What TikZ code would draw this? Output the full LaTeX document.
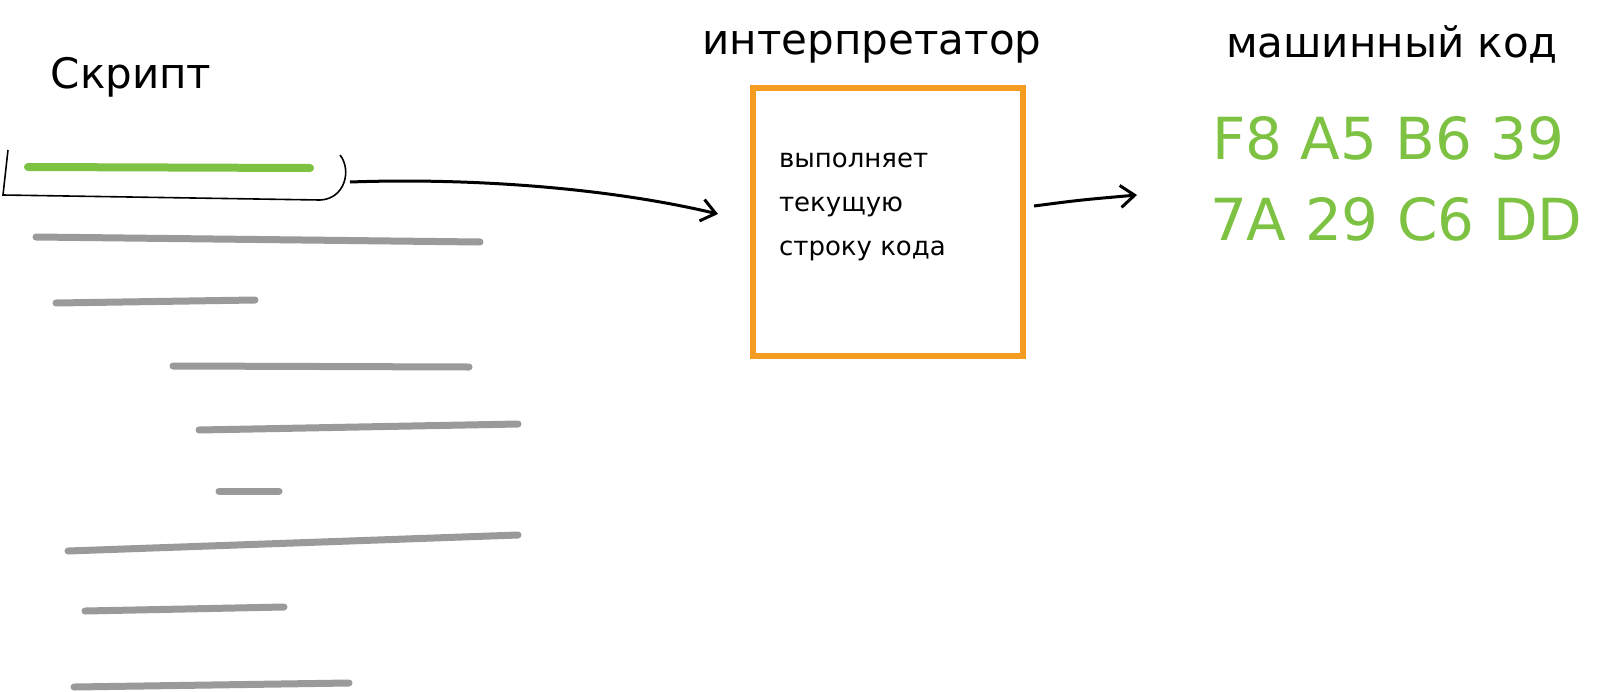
\documentclass[tikz,border=0pt]{standalone}
\usepackage{fontspec}
\setmainfont{DejaVu Sans}
\usetikzlibrary{arrows.meta}
\definecolor{codegreen}{RGB}{125,194,66}
\definecolor{linegrey}{RGB}{154,154,154}
\definecolor{boxorange}{RGB}{243,156,31}

\begin{document}
\begin{tikzpicture}[
  x = 0.5pt, y = -0.5pt,
  title/.style = {font=\fontsize{21}{24}\selectfont},
  hex/.style = {text=codegreen, font=\fontsize{29}{32}\selectfont},
  srcline/.style = {linegrey, line width=3.5pt, line cap=round},
  curline/.style = {codegreen, line width=4pt, line cap=round},
  interpbox/.style = {draw=boxorange, line width=3pt, minimum width=135pt, minimum height=134pt},
  flow/.style = {line width=1.5pt, -{Straight Barb[length=7pt, width=11pt, line width=1.5pt]}},
  ]
  \useasboundingbox (0,0) rectangle (1600,691);

  \node[title] (script) at (131,77) {Скрипт};
  \node[title] (interptitle) at (872,47) {интерпретатор};
  \node[title] (mctitle) at (1392,44) {машинный код};

  \draw[curline] (28,167) -- (310,168);
  \draw[thick] (8,150) -- (3,195) -- (320,200) .. controls (345,199) and (352,170) .. (340,155);
  \coordinate (cur) at (350,182);

  \draw[srcline] (36,237) -- (480,242);
  \draw[srcline] (56,303) -- (255,300);
  \draw[srcline] (173,366) -- (469,367);
  \draw[srcline] (199,430) -- (518,424);
  \draw[srcline] (219,491) -- (279,491);
  \draw[srcline] (68,551) -- (518,535);
  \draw[srcline] (85,611) -- (284,607);
  \draw[srcline] (74,687) -- (349,683);

  \node[interpbox] (interp) at (888,222) {};
  \node[anchor=west, align=left, font=\fontsize{13}{22}\selectfont] (job) at (772,207)
    {выполняет\\текущую\\строку кода};

  \node[hex, anchor=west] (hexa) at (1205,138) {F8 A5 B6 39};
  \node[hex, anchor=west] (hexb) at (1203,219) {7A 29 C6 DD};

  \draw[flow] (cur) .. controls (460,178) and (600,186) .. ([xshift=-16pt, yshift=4pt]interp.west);
  \draw[flow] ([xshift=4pt, yshift=8pt]interp.east) .. controls (1080,200) .. ([xshift=-33pt, yshift=12pt]hexb.west);
\end{tikzpicture}
\end{document}
